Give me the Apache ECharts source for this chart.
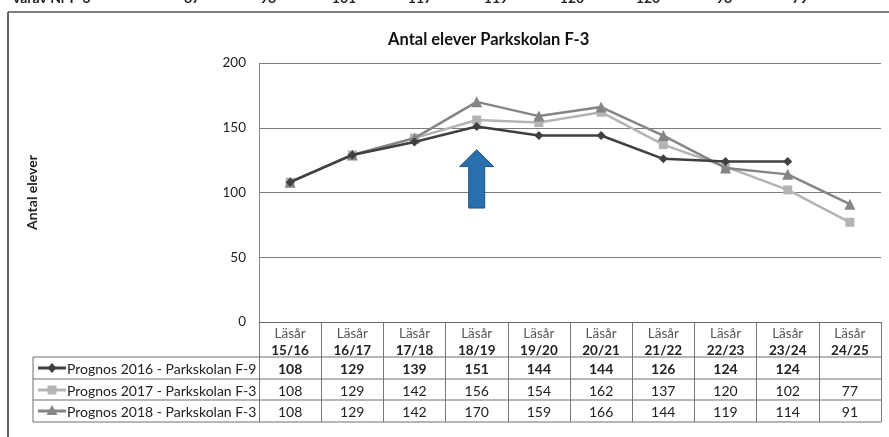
<!DOCTYPE html>
<html>
<head>
<meta charset="utf-8">
<script src="https://cdn.jsdelivr.net/npm/echarts@6/dist/echarts.min.js"></script>
<style>html,body{margin:0;padding:0;background:#fff;}#c{width:889px;height:437px;}</style>
</head>
<body>
<div id="c"></div>
<script>
const categories = ['15/16','16/17','17/18','18/19','19/20','20/21','21/22','22/23','23/24','24/25'];
const headerWord = 'Läsår';
const seriesNames = ['Prognos 2016 - Parkskolan F-9','Prognos 2017 - Parkskolan F-3','Prognos 2018 - Parkskolan F-3'];
const s2016 = [108,129,139,151,144,144,126,124,124,null];
const s2017 = [108,129,142,156,154,162,137,120,102,77];
const s2018 = [108,129,142,170,159,166,144,119,114,91];
const yMin = 0, yMax = 200, yStep = 50;
const titleText = 'Antal elever Parkskolan F-3';
const yName = 'Antal elever';
const topStripTexts = ['varav Nr F-3','87','98','101','117','119','120','120','98','79'];
const arrowCategory = 3, arrowTopVal = 133, arrowHeadVal = 120, arrowBottomVal = 88;

const FONT = 'Lato';
const colors = ['#404040','#b4b4b4','#858585'];
const symbols = ['diamond','rect','triangle'];
const symSizes = [9,9,11];
const allSeries = [s2016,s2017,s2018];

const chart = echarts.init(document.getElementById('c'), null, {renderer:'canvas'});
const option = {
  animation:false,
  backgroundColor:'#fff',
  textStyle:{fontFamily:FONT},
  title:{text:titleText,left:383,top:26,textStyle:{fontFamily:FONT,fontSize:16.5,fontWeight:'bold',color:'#111'}},
  grid:{left:259,right:8,top:63,bottom:115,containLabel:false},
  xAxis:{type:'category',data:categories,boundaryGap:true,
    axisLine:{lineStyle:{color:'#6a6a6a',width:1}},
    axisTick:{show:true,length:100,interval:0,lineStyle:{color:'#777'}},
    axisLabel:{interval:0,margin:4,formatter:v=>'{a|'+headerWord+'}\n{b|'+v+'}',
      rich:{a:{fontFamily:FONT,fontSize:13.5,color:'#555',lineHeight:16},b:{fontFamily:FONT,fontSize:13.5,color:'#222',fontWeight:'bold',lineHeight:17}}}
  },
  yAxis:{type:'value',min:yMin,max:yMax,interval:yStep,
    name:yName,nameLocation:'middle',nameRotate:90,nameGap:220,
    nameTextStyle:{fontFamily:FONT,fontSize:14,fontWeight:'bold',color:'#222'},
    axisLine:{show:true,lineStyle:{color:'#888'}},axisTick:{show:false},
    axisLabel:{margin:13,fontFamily:FONT,fontSize:13.5,color:'#222'},
    splitLine:{lineStyle:{color:'#7a7a7a',width:1}}
  },
  series:allSeries.map((d,i)=>({
    name:seriesNames[i],type:'line',data:d,symbol:symbols[i],symbolSize:symSizes[i],
    lineStyle:{color:colors[i],width:2.5},itemStyle:{color:colors[i]},z:[4,2,3][i]
  }))
};
chart.setOption(option);

const g = [];
const xs = categories.map((c,i)=>chart.convertToPixel({xAxisIndex:0},i));
const band = xs.length>1 ? xs[1]-xs[0] : 62;
const plotR = xs[xs.length-1]+band/2;
const axisY = chart.convertToPixel({yAxisIndex:0},0);
const rowTops = [axisY+35, axisY+57, axisY+78];
const rowH = 22;
const tableL = 33;
const lineCol = '#6f6f6f';
[rowTops[0],rowTops[1],rowTops[2],rowTops[2]+rowH].forEach(y=>{
  g.push({type:'line',shape:{x1:tableL,y1:y,x2:plotR,y2:y},style:{stroke:lineCol,lineWidth:1},silent:true});
});
g.push({type:'line',shape:{x1:tableL,y1:rowTops[0],x2:tableL,y2:rowTops[2]+rowH},style:{stroke:lineCol,lineWidth:1}});
allSeries.forEach((d,r)=>{
  d.forEach((v,i)=>{
    if(v==null) return;
    g.push({type:'text',style:{text:String(v),x:xs[i],y:rowTops[r]+rowH/2+1,textAlign:'center',textVerticalAlign:'middle',
      font:(r===0?'bold ':'')+'14px '+FONT,fill:'#222'}});
  });
  const cy = rowTops[r]+rowH/2;
  g.push({type:'line',shape:{x1:38,y1:cy,x2:66,y2:cy},style:{stroke:colors[r],lineWidth:3}});
  const mx=52;
  if(symbols[r]==='diamond') g.push({type:'polygon',shape:{points:[[mx,cy-5],[mx+4.5,cy],[mx,cy+5],[mx-4.5,cy]]},style:{fill:colors[r]}});
  else if(symbols[r]==='rect') g.push({type:'rect',shape:{x:mx-4.5,y:cy-4.5,width:9,height:9},style:{fill:colors[r]}});
  else g.push({type:'polygon',shape:{points:[[mx,cy-6],[mx+5.5,cy+4],[mx-5.5,cy+4]]},style:{fill:colors[r]}});
  g.push({type:'text',style:{text:seriesNames[r],x:67,y:cy+1,textVerticalAlign:'middle',font:'14px '+FONT,fill:'#222'}});
});
const ax = xs[arrowCategory];
const yT = chart.convertToPixel({yAxisIndex:0},arrowTopVal);
const yH = chart.convertToPixel({yAxisIndex:0},arrowHeadVal);
const yB = chart.convertToPixel({yAxisIndex:0},arrowBottomVal);
g.push({type:'polygon',z:10,shape:{points:[[ax,yT],[ax+17,yH],[ax+8,yH],[ax+8,yB],[ax-8,yB],[ax-8,yH],[ax-17,yH]]},
  style:{fill:'#2a6fae',stroke:'#1d5286',lineWidth:1}});
g.push({type:'line',shape:{x1:8,y1:12,x2:889,y2:12},style:{stroke:'#555',lineWidth:1.5}});
g.push({type:'line',shape:{x1:8,y1:12,x2:8,y2:437},style:{stroke:'#333',lineWidth:1.5}});
topStripTexts.forEach((t,i)=>{
  const x = i===0 ? 13 : 192 + (i-1)*76;
  g.push({type:'text',style:{text:t,x:x,y:5,textAlign:i===0?'left':'center',textVerticalAlign:'bottom',font:'bold 14px '+FONT,fill:'#222'}});
});
chart.setOption({graphic:{elements:g}});
</script>
</body>
</html>
